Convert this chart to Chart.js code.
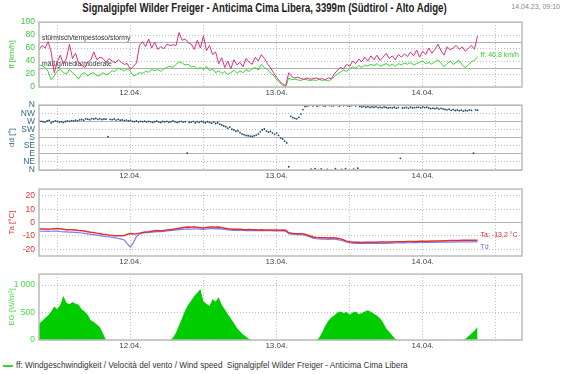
<!DOCTYPE html>
<html>
<head>
<meta charset="utf-8">
<script src="https://cdn.jsdelivr.net/npm/chart.js@4/dist/chart.umd.min.js"></script>
<style>
  html, body { margin: 0; padding: 0; background: #fff; }
  #wrap { position: relative; width: 562px; height: 374px; overflow: hidden;
          font-family: "Liberation Sans", Arial, sans-serif; }
  #title { position: absolute; left: 0; width: 529px; top: 1px; text-align: center;
           font-weight: bold; font-size: 12px; color: #222; white-space: nowrap;
           transform: scaleX(0.8); transform-origin: 264.5px 0; }
  #stamp { position: absolute; right: 2px; top: 3px; font-size: 7px; color: #888; white-space: nowrap; }
  #legend { position: absolute; left: 3px; top: 361px; font-size: 8.2px; color: #333; white-space: pre; }
  #legend i { display: inline-block; width: 10px; height: 2px; background: #33d633; vertical-align: middle; margin-right: 3px; }
</style>
</head>
<body>
<div id="wrap">
  <div id="title">Signalgipfel Wilder Freiger - Anticima Cima Libera, 3399m (Südtirol - Alto Adige)</div>
  <div id="stamp">14.04.23, 09:10</div>
  <div id="legend"><i></i>ff: Windgeschwindigkeit / Velocità del vento / Wind speed  Signalgipfel Wilder Freiger - Anticima Cima Libera</div>
</div>
<script>
// ---------- Daten (Stunden relativ zu 12.04. 00:00) ----------
const startHour = -15;
const stepHours = 0.5;      // ff, Böen, Ta, Td, EG
const ddStepHours = 1 / 3;  // dd
const xGridHours = [-12, 0, 12, 24, 36, 48, 60];
const xLabelHours = [0, 24, 48];
const xLabels = ['12.04.', '13.04.', '14.04.'];

// Windgeschwindigkeit ff [km/h]
const ff = [
  34, 33, 30, 24, 11, 17, 25, 27, 22, 20,
  27, 22, 18, 12, 20, 22, 17, 21, 22, 17,
  18, 22, 19, 21, 25, 24, 29, 27, 25, 28,
  24, 17, 19, 22, 21, 24, 23, 27, 25, 27,
  24, 28, 30, 32, 30, 35, 39, 37, 34, 35,
  31, 32, 28, 30, 27, 32, 25, 28, 22, 25,
  21, 24, 19, 22, 26, 21, 25, 22, 27, 24,
  28, 30, 26, 35, 30, 27, 22, 18, 12, 7,
  3, 0, 14, 11, 12, 11, 10, 12, 11, 10,
  11, 10, 12, 10, 11, 9, 12, 16, 20, 23,
  26, 24, 28, 31, 29, 33, 30, 34, 32, 35,
  33, 36, 32, 34, 36, 33, 35, 32, 36, 34,
  37, 35, 38, 34, 36, 38, 40, 36, 38, 35,
  39, 42, 37, 31, 36, 40, 35, 38, 41, 34,
  30, 34, 39, 41, 46.8
];
// Böen [km/h]
const gust = [
  57, 64, 60, 70, 54, 22, 39, 49, 35, 44,
  66, 44, 52, 37, 34, 30, 38, 42, 54, 42,
  46, 44, 38, 44, 40, 37, 42, 38, 35, 36,
  27, 32, 37, 64, 70, 62, 74, 60, 69, 58,
  62, 59, 66, 64, 65, 64, 84, 72, 74, 68,
  66, 58, 72, 60, 79, 56, 64, 50, 54, 36,
  45, 30, 40, 28, 42, 34, 38, 31, 44, 38,
  35, 46, 40, 50, 44, 36, 30, 22, 15, 9,
  5, 2, 22, 16, 14, 15, 13, 12, 14, 12,
  13, 14, 12, 13, 11, 14, 13, 20, 26, 30,
  28, 35, 32, 40, 36, 43, 39, 46, 40, 48,
  42, 49, 41, 46, 52, 44, 48, 42, 50, 46,
  51, 47, 54, 48, 57, 46, 55, 50, 60, 52,
  58, 66, 56, 49, 62, 57, 60, 64, 58, 62,
  55, 60, 64, 58, 79
];
const windTicks = [0, 20, 40, 60, 80, 100];
const windRefs = [30, 70];
const windRefLabels = ['mäßig/media/moderate', 'stürmisch/tempestoso/stormy'];

// Windrichtung dd [°]
const dd = [
  272, 270, 268, 266, 272, 275,
  262, 268, 273, 270, 266, 268,
  264, 269, 272, 270, 274, 272,
  276, 273, 278, 280, 276, 284,
  282, 279, 285, 283, 286, 281,
  284, 280, 283, 282, 185, 281,
  279, 283, 277, 281, 276, 278,
  274, 277, 272, 275, 270, 268,
  272, 266, 270, 268, 271, 266,
  270, 267, 264, 268, 271, 266,
  264, 269, 267, 270, 265, 268,
  272, 268, 264, 267, 270, 266,
  268, 93, 264, 266, 270, 262,
  268, 264, 270, 266, 262, 268,
  264, 260, 266, 258, 262, 255,
  250, 244, 240, 232, 238, 226,
  222, 215, 218, 208, 200, 196,
  192, 190, 188, 186, 190, 194,
  200, 212, 222, 228, 216, 210,
  214, 206, 198, 205, 192, 178,
  172, 160, 150, 18, 298, 290,
  286, 284, 292, 310, 335, 352,
  355, 358, 5, 356, 8, 354,
  358, 6, 357, 355, 3, 358,
  357, 356, 7, 359, 355, 4,
  357, 8, 356, 354, 358, 5,
  356, 10, 352, 350, 353, 348,
  351, 347, 350, 348, 352, 346,
  349, 345, 350, 347, 344, 346,
  345, 348, 343, 346, 65, 344,
  345, 347, 342, 348, 344, 346,
  347, 349, 345, 350, 346, 348,
  344, 341, 343, 340, 343, 338,
  342, 339, 336, 334, 337, 331,
  335, 330, 333, 329, 332, 327,
  330, 328, 333, 331, 93, 334,
  332
];
const ddTicks = [0, 45, 90, 135, 180, 225, 270, 315, 360];
const ddLabels = ['N', 'NE', 'E', 'SE', 'S', 'SW', 'W', 'NW', 'N'];

// Lufttemperatur Ta und Taupunkt Td [°C]
const ta = [
  -4.8, -4.9, -4.8, -5.0, -4.9, -4.6, -4.5, -4.7, -5.0, -5.3,
  -5.4, -5.4, -5.6, -5.9, -6.1, -6.4, -6.8, -7.2, -7.4, -7.9,
  -8.3, -8.7, -9.0, -9.4, -9.6, -9.8, -9.9, -9.8, -9.6, -8.8,
  -8.2, -8.5, -8.3, -7.9, -7.4, -7.0, -6.8, -6.5, -6.2, -6.0,
  -6.3, -6.0, -5.6, -5.3, -5.0, -4.6, -4.3, -3.9, -3.5, -3.3,
  -3.5, -3.2, -3.6, -3.8, -4.0, -3.7, -3.4, -3.3, -3.6, -3.4,
  -3.9, -4.2, -4.6, -4.8, -5.0, -5.1, -5.0, -5.2, -5.3, -5.2,
  -5.4, -5.4, -5.5, -5.4, -5.5, -5.6, -5.5, -5.6, -5.6, -5.7,
  -5.6, -5.8, -7.6, -8.0, -8.2, -8.3, -8.4, -8.6, -9.2, -10.0,
  -10.8, -11.2, -11.3, -11.4, -11.4, -11.5, -11.4, -11.5, -11.7, -12.2,
  -13.0, -13.9, -14.4, -14.7, -14.8, -14.8, -14.9, -14.8, -14.8, -14.7,
  -14.8, -14.7, -14.6, -14.6, -14.5, -14.6, -14.5, -14.4, -14.4, -14.3,
  -14.3, -14.2, -14.2, -14.1, -14.1, -14.0, -14.0, -13.9, -13.9, -13.8,
  -13.8, -13.7, -13.7, -13.6, -13.6, -13.5, -13.5, -13.4, -13.4, -13.3,
  -13.3, -13.2, -13.3, -13.2, -13.2
];
const td = [
  -6.4, -6.5, -6.4, -6.6, -6.5, -6.3, -6.4, -6.7, -6.9, -7.0,
  -7.1, -7.1, -7.3, -7.6, -7.8, -8.1, -8.4, -8.8, -9.0, -9.4,
  -9.8, -10.2, -10.5, -10.7, -11.0, -11.4, -11.9, -12.4, -13.0, -16.0,
  -18.3, -15.0, -10.5, -8.6, -7.8, -7.6, -7.5, -7.2, -7.0, -6.8,
  -6.8, -6.6, -6.3, -6.0, -5.8, -5.5, -5.3, -5.1, -4.9, -4.8,
  -5.0, -4.7, -4.8, -5.0, -5.1, -4.8, -4.6, -4.4, -4.7, -4.5,
  -4.9, -5.2, -5.5, -5.7, -5.8, -5.9, -5.8, -5.9, -6.0, -5.9,
  -6.0, -6.0, -6.1, -6.0, -6.1, -6.1, -6.0, -6.2, -6.1, -6.2,
  -6.2, -6.4, -8.3, -8.6, -8.8, -9.0, -9.1, -9.3, -10.0, -10.8,
  -11.6, -12.1, -12.3, -12.4, -12.4, -12.5, -12.4, -12.5, -12.7, -13.2,
  -13.8, -14.6, -15.1, -15.4, -15.5, -15.6, -15.6, -15.5, -15.6, -15.5,
  -15.6, -15.5, -15.5, -15.4, -15.5, -15.4, -15.4, -15.3, -15.3, -15.2,
  -15.2, -15.1, -15.1, -15.0, -15.0, -14.9, -14.9, -14.9, -14.8, -14.8,
  -14.8, -14.7, -14.7, -14.7, -14.6, -14.6, -14.6, -14.5, -14.5, -14.5,
  -14.5, -14.4, -14.4, -14.4, -14.3
];
const tempTicks = [-20, -10, 0, 10, 20];

// Globalstrahlung EG [W/m²]
const eg = [
  300, 340, 400, 450, 520, 610, 560, 640, 800, 680,
  650, 690, 660, 640, 560, 520, 460, 360, 330, 280,
  230, 120, 0, 0, 0, 0, 0, 0, 0, 0,
  0, 0, 0, 0, 0, 0, 0, 0, 0, 0,
  0, 0, 0, 0, 40, 130, 270, 400, 540, 640,
  720, 800, 860, 930, 700, 660, 620, 740, 700, 780,
  640, 560, 470, 390, 310, 220, 160, 100, 60, 20,
  0, 0, 0, 0, 0, 0, 0, 0, 0, 0,
  0, 0, 0, 0, 0, 0, 0, 0, 0, 0,
  0, 0, 40, 140, 260, 350, 410, 450, 500, 520,
  490, 510, 460, 500, 520, 470, 490, 520, 540, 510,
  480, 440, 390, 320, 210, 150, 80, 20, 0, 0,
  0, 0, 0, 0, 0, 0, 0, 0, 0, 0,
  0, 0, 0, 0, 0, 0, 0, 0, 0, 0,
  20, 70, 120, 170, 240
];
const egTicks = [0, 500, 1000];

// ---------- Layout ----------
const FONT = '"Liberation Sans", Arial, sans-serif';
Chart.defaults.font.family = FONT;
const PLOT_LEFT = 39, PLOT_RIGHT = 522, PAD_TOP = 6, X_H = 14;
const X_MIN = -15, X_MAX = 64.3;
const DOTS = [1, 2];
const wrap = document.getElementById('wrap');

[ff, gust, ta, td, eg].forEach((a, k) => { if (a.length !== 145) throw new Error('len ' + k + ' ' + a.length); });
if (dd.length !== 217) throw new Error('dd len ' + dd.length);

const pts = (arr, step) => arr.map((v, i) => ({ x: startHour + i * step, y: v }));
const setTicks = vals => s => { s.ticks = vals.map(v => ({ value: v })); };
const comma = v => v.toFixed(1).replace('.', ',');

const panelExtras = {
  id: 'panelExtras',
  beforeDatasetsDraw(chart, args, o) {
    const { ctx, chartArea: a, scales } = chart;
    (o.refs || []).forEach(r => {
      const y = Math.round(scales.y.getPixelForValue(r.value)) + 0.5;
      ctx.save();
      ctx.strokeStyle = '#b0b0b0'; ctx.lineWidth = 1;
      ctx.beginPath(); ctx.moveTo(a.left, y); ctx.lineTo(a.right, y); ctx.stroke();
      ctx.fillStyle = '#333'; ctx.font = '6.8px ' + FONT; ctx.textBaseline = 'bottom';
      ctx.fillText(r.label, a.left + 3, y - 1);
      ctx.restore();
    });
  },
  afterDatasetsDraw(chart, args, o) {
    const { ctx, chartArea: a } = chart;
    ctx.save();
    ctx.strokeStyle = '#bbbbbb'; ctx.lineWidth = 1.5;
    ctx.strokeRect(a.left, a.top, a.right - a.left, a.bottom - a.top);
    (o.ends || []).forEach(e => {
      const d = chart.getDatasetMeta(e.ds).data;
      const p = d[d.length - 1];
      ctx.fillStyle = e.color; ctx.font = '7px ' + FONT; ctx.textBaseline = 'middle';
      ctx.fillText(e.text, p.x + 3, p.y + e.dy);
    });
    ctx.restore();
  }
};

function xScale() {
  return {
    type: 'linear', min: X_MIN, max: X_MAX,
    afterBuildTicks: setTicks(xGridHours),
    afterFit: s => { s.height = X_H; },
    grid: { color: '#bdbdbd', drawTicks: false, borderDash: DOTS },
    border: { display: false, dash: DOTS },
    ticks: {
      autoSkip: false, maxRotation: 0, padding: 1, color: '#444', font: { size: 8 },
      callback: v => { const k = xLabelHours.indexOf(v); return k < 0 ? '' : xLabels[k]; }
    }
  };
}

function yScale(o) {
  const dash = o.dash || DOTS;
  return {
    min: o.min, max: o.max,
    afterBuildTicks: setTicks(o.ticks),
    afterFit: s => { s.width = PLOT_LEFT; },
    grid: { color: o.gridColor || '#bdbdbd', drawTicks: false, borderDash: dash },
    border: { display: false, dash: dash },
    ticks: { autoSkip: false, padding: 4, color: o.color, font: { size: 8.5 }, callback: o.fmt || (v => v) },
    title: { display: true, text: o.title, color: o.color, font: { size: 8 }, padding: { top: 7, bottom: 0 } }
  };
}

function panel(plotTop, plotH, type, datasets, yOpt, extras) {
  const cv = document.createElement('canvas');
  const H = PAD_TOP + plotH + X_H;
  cv.width = 562; cv.height = H;
  cv.style.cssText = 'position:absolute;left:0;top:' + (plotTop - PAD_TOP) + 'px;width:562px;height:' + H + 'px';
  wrap.appendChild(cv);
  return new Chart(cv, {
    type: type,
    data: { datasets: datasets },
    options: {
      responsive: false, animation: false, events: [],
      layout: { padding: { left: 0, right: 562 - PLOT_RIGHT, top: PAD_TOP, bottom: 0 } },
      plugins: { legend: { display: false }, tooltip: { enabled: false }, panelExtras: extras },
      scales: { x: xScale(), y: yScale(yOpt) }
    },
    plugins: [panelExtras]
  });
}

// ff / Böen
panel(19, 68, 'line', [
  { data: pts(gust, stepHours), borderColor: '#dc2f7f', borderWidth: 1, pointRadius: 0 },
  { data: pts(ff, stepHours), borderColor: '#33d633', borderWidth: 1, pointRadius: 0 }
], { min: 0, max: 100, ticks: windTicks, color: '#3ccc3c', title: 'ff [km/h]' }, {
  refs: windRefs.map((v, i) => ({ value: v, label: windRefLabels[i] })),
  ends: [{ ds: 1, text: 'ff: ' + comma(ff[ff.length - 1]) + ' km/h', color: '#33cc33', dy: -2 }]
});

// dd
const ddMajor = c => c.tick && c.tick.value % 90 === 0;
panel(102, 68, 'scatter', [
  { data: pts(dd, ddStepHours), backgroundColor: '#1e4d6b', borderColor: '#1e4d6b', pointRadius: 0.9, borderWidth: 0 }
], {
  min: 0, max: 360, ticks: ddTicks, color: '#336b8a', title: 'dd [°]',
  fmt: v => ddLabels[ddTicks.indexOf(v)],
  dash: c => ddMajor(c) ? [] : DOTS,
  gridColor: c => ddMajor(c) ? '#b4b4b4' : '#bdbdbd'
}, {});

// Ta / Td
const zeroLine = c => c.tick && c.tick.value === 0;
panel(186, 70, 'line', [
  { data: pts(ta, stepHours), borderColor: '#e03030', borderWidth: 1.5, pointRadius: 0 },
  { data: pts(td, stepHours), borderColor: '#7a7aff', borderWidth: 1.2, pointRadius: 0 }
], {
  min: -25, max: 25, ticks: tempTicks, color: '#dd3333', title: 'Ta [°C]',
  dash: c => zeroLine(c) ? [] : DOTS,
  gridColor: c => zeroLine(c) ? '#b4b4b4' : '#bdbdbd'
}, {
  ends: [
    { ds: 0, text: 'Ta: ' + comma(ta[ta.length - 1]) + ' °C', color: '#dd3333', dy: -5 },
    { ds: 1, text: 'Td', color: '#6a6aff', dy: 5 }
  ]
});

// EG
panel(271, 69, 'line', [
  { data: pts(eg, stepHours), borderColor: '#00cc00', backgroundColor: '#00cc00', borderWidth: 0, pointRadius: 0, fill: 'origin' }
], {
  min: 0, max: 1200, ticks: egTicks, color: '#44dd44', title: 'EG [W/m²]',
  fmt: v => v >= 1000 ? Math.floor(v / 1000) + ' ' + String(v % 1000).padStart(3, '0') : String(v)
}, {});
</script>
</body>
</html>
